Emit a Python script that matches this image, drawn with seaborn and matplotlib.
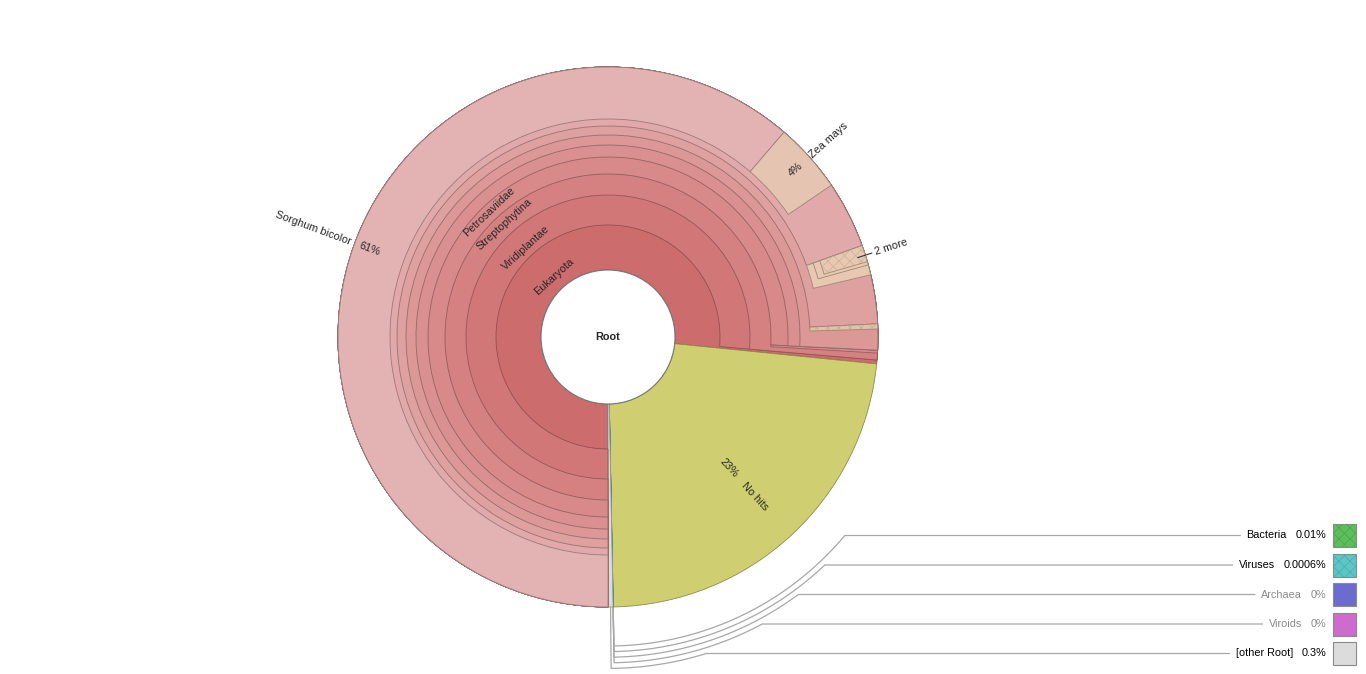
import numpy as np
import matplotlib
matplotlib.use("Agg")
import matplotlib.pyplot as plt
from matplotlib.patches import Wedge, Circle, Rectangle
import seaborn as sns

# ---------------- data ----------------
node_names = ["Eukaryota", "Viridiplantae", "Streptophytina", "Petrosaviidae",
              "commelinids", "Poales", "Poaceae", "Andropogoneae",
              "Sorghum bicolor", "Zea mays", "BOP clade", "Oryzoideae",
              "Oryza sativa", "Bromeliaceae", "Pentapetalae",
              "No hits", "Bacteria", "Viruses", "Archaea", "Viroids", "[other Root]"]
node_parents = ["Root", "Eukaryota", "Viridiplantae", "Streptophytina",
                "Petrosaviidae", "commelinids", "Poales", "Poaceae",
                "Andropogoneae", "Andropogoneae", "Poaceae", "BOP clade",
                "Oryzoideae", "Poales", "Streptophytina",
                "Root", "Root", "Root", "Root", "Root", "Root"]
node_values = [76.59, 76.36, 76.36, 75.78,
               75.78, 75.78, 74.22, 69.5,
               61.3, 4.2, 1.8, 1.2,
               1.0, 0.31, 0.17,
               23.1, 0.01, 0.0006, 0.0, 0.0, 0.3]

tangential_labels = ["Eukaryota", "Viridiplantae", "Streptophytina", "Petrosaviidae"]
leaf_labels = ["Sorghum bicolor", "Zea mays", "No hits"]
more_label_node = "Oryzoideae"
more_label_text = "2 more"

legend_names = ["Bacteria", "Viruses", "Archaea", "Viroids", "[other Root]"]

# ---------------- style ----------------
colors = {
    "Eukaryota": "#cd6c6c", "Viridiplantae": "#d17777", "Streptophytina": "#d58181",
    "Petrosaviidae": "#d88989", "commelinids": "#da9090", "Poales": "#dc9797",
    "Poaceae": "#dfa0a0", "Andropogoneae": "#e1a9a9", "Sorghum bicolor": "#e3b3b3",
    "Zea mays": "#e5c4b1", "BOP clade": "#e8c8b0", "Oryzoideae": "#e8c8b0",
    "Oryza sativa": "#e8c8b0", "Bromeliaceae": "#e2c1a6", "Pentapetalae": "#d98b8b",
    "No hits": "#cfce70", "Bacteria": "#5cbf5c", "Viruses": "#5cc6c6",
    "Archaea": "#6b6bd0", "Viroids": "#cf6bcf", "[other Root]": "#dcdcdc",
}
hatched = {"Oryza sativa", "Bromeliaceae", "Bacteria", "Viruses"}

sns.set_theme(style="white")
plt.rcParams["font.family"] = ["Liberation Sans", "DejaVu Sans"]
plt.rcParams["hatch.linewidth"] = 0.5
FS = 7.8

W, H = 1366, 674
fig = plt.figure(figsize=(W / 100, H / 100), dpi=100)
ax = fig.add_axes([0, 0, 1, 1])
ax.set_xlim(0, W)
ax.set_ylim(0, H)
ax.axis("off")

cx, cy = 608, H - 337
R = 270
radii = [0, 67, 112, 142, 163, 180, 192, 202, 211, 218, 225]
START = -90.0  # math degrees, layout runs clockwise


def darker(c, f=0.6):
    r, g, b = matplotlib.colors.to_rgb(c)
    return (r * f, g * f, b * f)


children = {}
val = {}
for n, p, v in zip(node_names, node_parents, node_values):
    children.setdefault(p, []).append(n)
    val[n] = v
total = sum(val[c] for c in children["Root"])
deg_per = 360.0 / total

mid_angle = {}


def norm(a):
    return ((a + 180.0) % 360.0) - 180.0


def layout(node, start_cw, depth):
    for ch in children.get(node, []):
        span = val[ch] * deg_per
        t1 = START - (start_cw + span)
        t2 = START - start_cw
        mid_angle[ch] = norm(START - (start_cw + span / 2))
        inner = radii[depth]
        c = colors[ch]
        if span > 0:
            ax.add_patch(Wedge((cx, cy), R, t1, t2, width=R - inner, facecolor=c,
                               edgecolor=darker(c, 0.68), linewidth=0.6, zorder=2 + depth * 0.01))
            if ch in hatched:
                ax.add_patch(Wedge((cx, cy), R, t1, t2, width=R - inner, fill=False,
                                   hatch="xxx", edgecolor=darker(c, 0.88), linewidth=0,
                                   zorder=2.005 + depth * 0.01))
        layout(ch, start_cw, depth + 1)
        start_cw += span


layout("Root", 0.0, 1)

# root circle
ax.add_patch(Circle((cx, cy), radii[1], facecolor="white", edgecolor="#777777",
                    linewidth=0.8, zorder=3))
ax.text(cx, cy, "Root", ha="center", va="center", fontsize=FS, fontweight="bold", zorder=4)

# tangential labels for inner nodes
label_r = {"Eukaryota": 81, "Viridiplantae": 121.5, "Streptophytina": 153.5, "Petrosaviidae": 172.5}
for n in tangential_labels:
    th = mid_angle[n]
    r = label_r[n]
    x = cx + r * np.cos(np.radians(th))
    y = cy + r * np.sin(np.radians(th))
    ax.text(x, y, n, ha="center", va="center", rotation=th - 90, fontsize=FS,
            rotation_mode="anchor", zorder=4)

# radial leaf labels: percentage inside, name next to it
leaf_pos = {"Sorghum bicolor": (254, 274), "Zea mays": (252, 272), "No hits": (178, 200)}
for n in leaf_labels:
    th = mid_angle[n]
    rp, rn = leaf_pos[n]
    pct = f"{round(val[n])}%"
    rad = np.radians(th)
    right_side = np.cos(rad) >= 0
    rot = th if right_side else th - 180
    ax.text(cx + rp * np.cos(rad), cy + rp * np.sin(rad), pct, ha="center", va="center",
            rotation=rot, rotation_mode="anchor", fontsize=FS, zorder=4)
    ax.text(cx + rn * np.cos(rad), cy + rn * np.sin(rad), n,
            ha="left" if right_side else "right", va="center",
            rotation=rot, rotation_mode="anchor", fontsize=FS, zorder=4)

# "2 more" label with leader
th = mid_angle[more_label_node]
rad = np.radians(th)
ax.plot([cx + 262 * np.cos(rad), cx + 277 * np.cos(rad)],
        [cy + 262 * np.sin(rad), cy + 277 * np.sin(rad)], color="#333333", lw=0.8, zorder=4)
ax.text(cx + 280 * np.cos(rad), cy + 280 * np.sin(rad), more_label_text, ha="left", va="center",
        rotation=th, rotation_mode="anchor", fontsize=FS, zorder=4)

# ---------------- legend with connectors ----------------
row0 = H - 535.5
row_step = 29.5
pct_right = 1326.5
box_x = 1333
box = 23
fig.canvas.draw()
renderer = fig.canvas.get_renderer()
for k, n in enumerate(legend_names):
    yr = row0 - k * row_step
    v = val[n]
    tcol = "black" if v > 0 else "#8a8a8a"
    pct_txt = ax.text(pct_right, yr, f"{v:g}%", ha="right", va="center", fontsize=FS, color=tcol)
    bb = pct_txt.get_window_extent(renderer)
    name_txt = ax.text(bb.x0 - 9, yr, n, ha="right", va="center", fontsize=FS, color=tcol)
    nb = name_txt.get_window_extent(renderer)
    ax.add_patch(Rectangle((box_x, yr - box / 2), box, box, facecolor=colors[n],
                           edgecolor="#8a8a8a", linewidth=0.8))
    if n in hatched:
        ax.add_patch(Rectangle((box_x, yr - box / 2), box, box, fill=False, hatch="xxx",
                               edgecolor=darker(colors[n], 0.85), linewidth=0))
    rk = 309 + 5.6 * k
    th_node = mid_angle[n]
    th_row = np.degrees(np.arcsin((yr - cy) / rk))
    arc = np.linspace(th_node, th_row, 80)
    xs = [cx + R * np.cos(np.radians(th_node))] + list(cx + rk * np.cos(np.radians(arc)))
    ys = [cy + R * np.sin(np.radians(th_node))] + list(cy + rk * np.sin(np.radians(arc)))
    xs.append(nb.x0 - 6)
    ys.append(yr)
    ax.plot(xs, ys, color="#a8a8a8", lw=0.9, zorder=1)

fig.savefig("out.png", dpi=100)
